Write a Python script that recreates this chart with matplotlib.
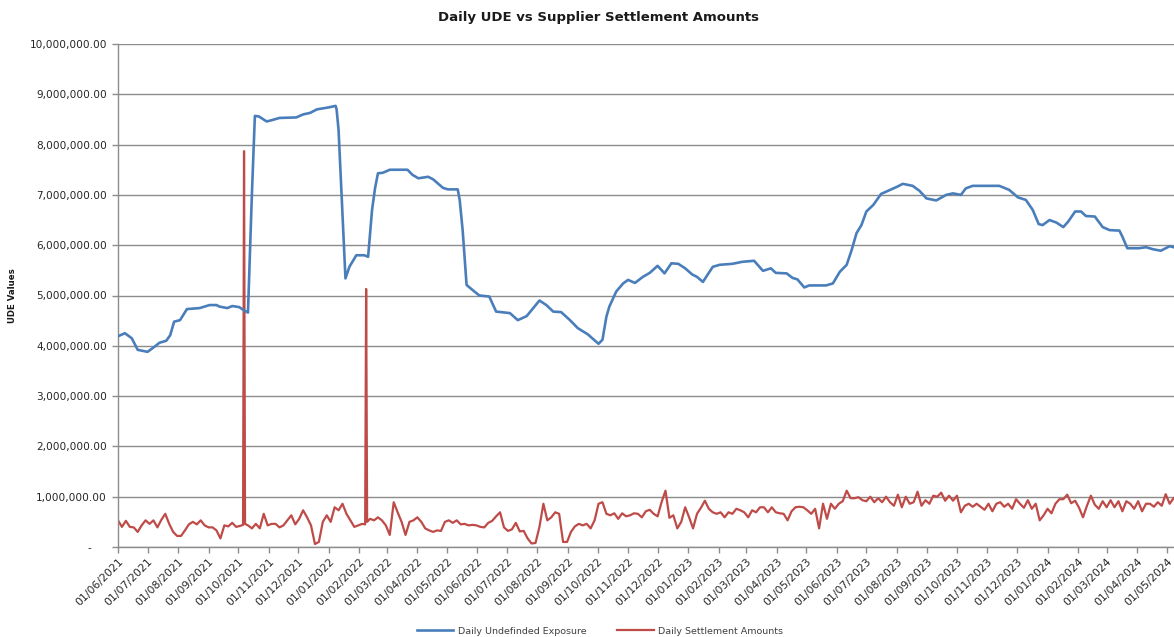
import numpy as np
import pandas as pd
import matplotlib
matplotlib.use("Agg")
import matplotlib.pyplot as plt
import matplotlib.dates as mdates
from matplotlib.ticker import FuncFormatter, MultipleLocator
from matplotlib.transforms import ScaledTranslation

# Daily Undefinded Exposure (millions)
ude_dates = [
    "2021-06-01", "2021-06-08", "2021-06-15", "2021-06-21", "2021-07-01", "2021-07-08", "2021-07-13", "2021-07-20", "2021-07-24", "2021-07-28",
    "2021-08-03", "2021-08-10", "2021-08-23", "2021-09-02", "2021-09-09", "2021-09-12", "2021-09-20", "2021-09-25", "2021-10-02", "2021-10-09",
    "2021-10-11", "2021-10-15", "2021-10-18", "2021-10-22", "2021-10-30", "2021-11-05", "2021-11-12", "2021-11-29", "2021-12-06", "2021-12-13",
    "2021-12-20", "2021-12-26", "2022-01-01", "2022-01-08", "2022-01-09", "2022-01-11", "2022-01-14", "2022-01-18", "2022-01-22", "2022-01-29",
    "2022-02-06", "2022-02-10", "2022-02-14", "2022-02-17", "2022-02-20", "2022-02-25", "2022-03-04", "2022-03-22", "2022-03-27", "2022-04-02",
    "2022-04-12", "2022-04-17", "2022-04-27", "2022-05-02", "2022-05-12", "2022-05-14", "2022-05-17", "2022-05-21", "2022-05-27", "2022-06-03",
    "2022-06-13", "2022-06-20", "2022-07-04", "2022-07-12", "2022-07-21", "2022-07-29", "2022-08-03", "2022-08-10", "2022-08-17", "2022-08-25",
    "2022-09-03", "2022-09-11", "2022-09-21", "2022-10-02", "2022-10-06", "2022-10-10", "2022-10-13", "2022-10-20", "2022-10-27", "2022-11-01",
    "2022-11-08", "2022-11-16", "2022-11-23", "2022-12-01", "2022-12-08", "2022-12-15", "2022-12-22", "2022-12-29", "2023-01-05", "2023-01-10",
    "2023-01-16", "2023-01-20", "2023-01-26", "2023-02-02", "2023-02-15", "2023-02-25", "2023-03-09", "2023-03-18", "2023-03-26", "2023-03-31",
    "2023-04-11", "2023-04-17", "2023-04-22", "2023-04-29", "2023-05-04", "2023-05-21", "2023-05-28", "2023-06-04", "2023-06-11", "2023-06-16",
    "2023-06-21", "2023-06-26", "2023-07-01", "2023-07-08", "2023-07-16", "2023-07-25", "2023-08-01", "2023-08-07", "2023-08-17", "2023-08-24",
    "2023-08-31", "2023-09-10", "2023-09-20", "2023-09-27", "2023-10-05", "2023-10-10", "2023-10-17", "2023-11-13", "2023-11-23", "2023-12-02",
    "2023-12-10", "2023-12-17", "2023-12-23", "2023-12-27", "2024-01-03", "2024-01-10", "2024-01-17", "2024-01-22", "2024-01-29", "2024-02-04",
    "2024-02-09", "2024-02-18", "2024-02-26", "2024-03-04", "2024-03-14", "2024-03-17", "2024-03-22", "2024-04-03", "2024-04-10", "2024-04-17",
    "2024-04-25", "2024-05-04", "2024-05-08",
]
ude_values_m = [
    4.19, 4.25, 4.15, 3.92, 3.88, 3.98, 4.06, 4.10, 4.21, 4.48,
    4.51, 4.73, 4.75, 4.81, 4.81, 4.78, 4.75, 4.79, 4.77, 4.68,
    4.66, 7.03, 8.57, 8.56, 8.46, 8.49, 8.53, 8.54, 8.60, 8.63,
    8.70, 8.72, 8.74, 8.77, 8.70, 8.29, 7.03, 5.34, 5.57, 5.80,
    5.80, 5.77, 6.70, 7.13, 7.43, 7.44, 7.50, 7.50, 7.40, 7.33,
    7.36, 7.31, 7.14, 7.11, 7.11, 6.90, 6.30, 5.21, 5.11, 5.00,
    4.98, 4.68, 4.65, 4.51, 4.59, 4.78, 4.90, 4.81, 4.68, 4.67,
    4.51, 4.35, 4.23, 4.04, 4.12, 4.58, 4.78, 5.08, 5.24, 5.31,
    5.25, 5.37, 5.45, 5.59, 5.44, 5.64, 5.63, 5.54, 5.42, 5.37,
    5.27, 5.39, 5.57, 5.61, 5.63, 5.67, 5.69, 5.49, 5.54, 5.45,
    5.44, 5.35, 5.32, 5.16, 5.20, 5.20, 5.24, 5.47, 5.61, 5.90,
    6.24, 6.40, 6.67, 6.80, 7.02, 7.10, 7.16, 7.22, 7.18, 7.08,
    6.93, 6.89, 7.00, 7.03, 7.00, 7.13, 7.18, 7.18, 7.10, 6.95,
    6.90, 6.70, 6.42, 6.40, 6.50, 6.45, 6.36, 6.47, 6.67, 6.67,
    6.58, 6.57, 6.36, 6.30, 6.29, 6.17, 5.94, 5.94, 5.96, 5.92,
    5.89, 5.98, 5.96,
]

# Daily Settlement Amounts (millions), read every 4 days from 01/06/2021
settle_start = "2021-06-01"
settle_step_days = 4
settle_values_m = [
    0.53, 0.40, 0.52, 0.40, 0.39, 0.30, 0.43, 0.53, 0.46, 0.53,
    0.39, 0.54, 0.66, 0.46, 0.30, 0.22, 0.22, 0.33, 0.45, 0.50,
    0.45, 0.53, 0.43, 0.39, 0.39, 0.33, 0.17, 0.43, 0.41, 0.48,
    0.40, 0.42, 7.87, 0.43, 0.37, 0.46, 0.37, 0.66, 0.43, 0.46,
    0.46, 0.39, 0.43, 0.53, 0.63, 0.45, 0.56, 0.73, 0.59, 0.43,
    0.06, 0.10, 0.50, 0.63, 0.50, 0.79, 0.73, 0.86, 0.66, 0.53,
    0.40, 0.43, 0.46, 5.13, 0.56, 0.53, 0.59, 0.53, 0.43, 0.24,
    0.89, 0.69, 0.50, 0.24, 0.50, 0.53, 0.59, 0.50, 0.37, 0.33,
    0.30, 0.33, 0.32, 0.50, 0.53, 0.48, 0.53, 0.45, 0.46, 0.43,
    0.44, 0.43, 0.40, 0.39, 0.48, 0.52, 0.61, 0.69, 0.39, 0.32,
    0.35, 0.48, 0.31, 0.32, 0.17, 0.07, 0.08, 0.40, 0.86, 0.53,
    0.59, 0.69, 0.66, 0.10, 0.10, 0.30, 0.41, 0.46, 0.43, 0.46,
    0.37, 0.53, 0.86, 0.89, 0.66, 0.63, 0.67, 0.56, 0.67, 0.61,
    0.63, 0.67, 0.66, 0.59, 0.71, 0.74, 0.66, 0.61, 0.89, 1.12,
    0.58, 0.63, 0.37, 0.50, 0.79, 0.59, 0.37, 0.66, 0.78, 0.92,
    0.76, 0.69, 0.66, 0.69, 0.59, 0.69, 0.66, 0.76, 0.73, 0.69,
    0.59, 0.73, 0.69, 0.79, 0.79, 0.69, 0.79, 0.69, 0.67, 0.66,
    0.53, 0.71, 0.79, 0.80, 0.79, 0.73, 0.66, 0.76, 0.37, 0.86,
    0.56, 0.86, 0.76, 0.86, 0.91, 1.12, 0.97, 0.97, 0.99, 0.93,
    0.91, 1.00, 0.89, 0.97, 0.89, 1.00, 0.89, 0.82, 1.04, 0.79,
    1.00, 0.86, 0.89, 1.10, 0.82, 0.93, 0.86, 1.02, 1.00, 1.08,
    0.92, 1.02, 0.92, 1.02, 0.69, 0.82, 0.86, 0.80, 0.86, 0.80,
    0.74, 0.86, 0.71, 0.86, 0.89, 0.80, 0.86, 0.76, 0.95, 0.86,
    0.78, 0.93, 0.76, 0.86, 0.53, 0.63, 0.76, 0.67, 0.86, 0.95,
    0.95, 1.04, 0.87, 0.92, 0.78, 0.59, 0.82, 1.02, 0.84, 0.76,
    0.91, 0.79, 0.93, 0.79, 0.91, 0.71, 0.91, 0.86, 0.76, 0.91,
    0.71, 0.86, 0.86, 0.80, 0.89, 0.82, 1.05, 0.86, 0.97,
]
# days either side of the two one-day spikes
spike_edge_dates = ["2021-10-06", "2021-10-08", "2022-02-07", "2022-02-09"]
spike_edge_values_m = [0.44, 0.46, 0.45, 0.50]

BLUE = "#4A7EBB"
RED = "#BE4B48"
GRAY = "#8C8C8C"
FONT = "DejaVu Sans"

plt.rcParams["font.family"] = FONT

# build the series
ude = pd.Series(np.array(ude_values_m) * 1e6, index=pd.to_datetime(ude_dates))
settle_idx = pd.date_range(settle_start, periods=len(settle_values_m), freq=f"{settle_step_days}D")
settle = pd.concat([
    pd.Series(np.array(settle_values_m) * 1e6, index=settle_idx),
    pd.Series(np.array(spike_edge_values_m) * 1e6, index=pd.to_datetime(spike_edge_dates)),
]).sort_index()

fig = plt.figure(figsize=(11.74, 6.37), dpi=100)
ax = fig.add_axes([118 / 1174, 90 / 637, 1 - 118 / 1174, 503 / 637])

ax.plot(ude.index, ude.values, color=BLUE, lw=1.9, solid_joinstyle="round",
        label="Daily Undefinded Exposure", zorder=3)
ax.plot(settle.index, settle.values, color=RED, lw=1.6, solid_joinstyle="round",
        label="Daily Settlement Amounts", zorder=2)

ax.set_ylim(0, 10_000_000)
ax.yaxis.set_major_locator(MultipleLocator(1_000_000))
ax.yaxis.set_major_formatter(FuncFormatter(lambda v, p: "-" if v == 0 else f"{v:,.2f}"))
ax.set_xlim(pd.Timestamp("2021-06-01"), pd.Timestamp("2024-05-08 10:00"))
ax.xaxis.set_major_locator(mdates.MonthLocator(bymonthday=1))
ax.xaxis.set_major_formatter(mdates.DateFormatter("%d/%m/%Y"))

ax.grid(axis="y", color=GRAY, lw=1.0)
ax.set_axisbelow(True)
for s in ["top", "right"]:
    ax.spines[s].set_visible(False)
for s in ["left", "bottom"]:
    ax.spines[s].set_color(GRAY)
    ax.spines[s].set_linewidth(1.0)

ax.tick_params(axis="y", length=4, width=1.0, color=GRAY, pad=4, labelsize=7.6, labelcolor="#262626")
ax.tick_params(axis="x", length=4, width=1.0, color=GRAY, pad=3, labelsize=7.8, labelcolor="#262626")
for lab in ax.get_xticklabels():
    lab.set_rotation(45)
    lab.set_ha("right")
    lab.set_va("top")
    lab.set_rotation_mode("anchor")

# accounting style: the zero dash sits left of the column
fig.canvas.draw()
for lab in ax.get_yticklabels():
    if lab.get_text() == "-":
        lab.set_transform(lab.get_transform() + ScaledTranslation(-0.16, 0, fig.dpi_scale_trans))

fig.text(598 / 1174, 1 - 17 / 637, "Daily UDE vs Supplier Settlement Amounts",
         ha="center", va="center", fontsize=9.5, fontweight="bold", color="#1a1a1a")
fig.text(13 / 1174, 1 - 296 / 637, "UDE Values", rotation=90, ha="center", va="center",
         fontsize=6.2, fontweight="bold", color="#1a1a1a")

fig.legend(loc="center", bbox_to_anchor=(600 / 1174, 6 / 637), ncol=2, frameon=False,
           fontsize=6.8, handlelength=3.9, handletextpad=0.5, columnspacing=3.2,
           labelcolor="#404040")

fig.savefig("out.png", dpi=100, facecolor="white")
